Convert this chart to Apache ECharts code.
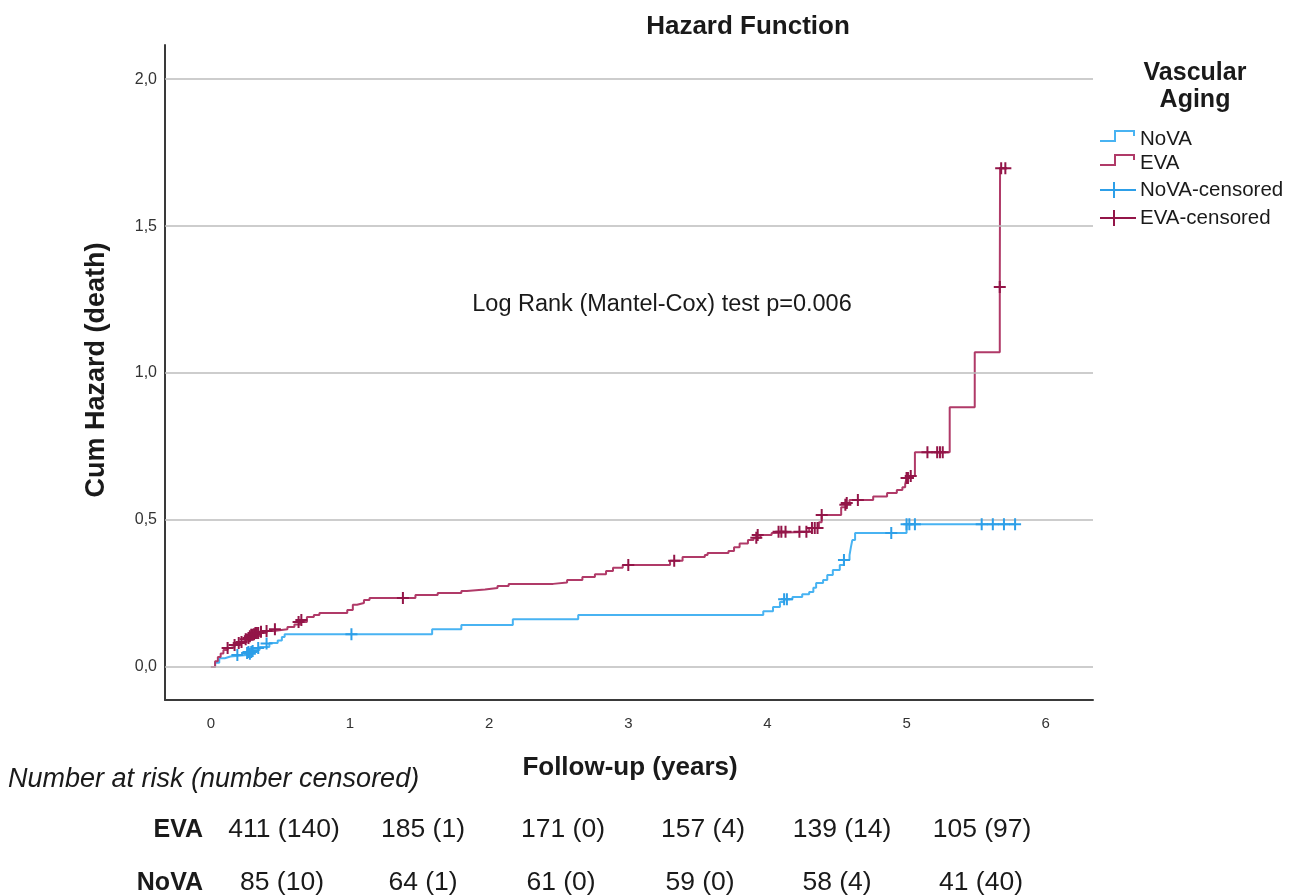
<!DOCTYPE html>
<html>
<head>
<meta charset="utf-8">
<script src="https://cdn.jsdelivr.net/npm/echarts@6/dist/echarts.min.js"></script>
<style>
html,body{margin:0;padding:0;background:#fff;}
#chart{width:1290px;height:896px;}
</style>
</head>
<body>
<div id="chart"></div>
<script>
// ---- Data ----
const xTicks = [0, 1, 2, 3, 4, 5, 6];
const yTicks = [0, 0.5, 1.0, 1.5, 2.0];

// Cumulative hazard step points [years, cum hazard] (value after each step)
const evaSteps = [
  [0,0],[0.03,0.02],[0.05,0.034],[0.07,0.046],[0.09,0.058],[0.12,0.065],[0.14,0.068],
  [0.17,0.075],[0.21,0.082],[0.24,0.09],[0.28,0.099],[0.31,0.106],[0.35,0.116],
  [0.40,0.123],[0.45,0.129],[0.55,0.136],[0.60,0.145],[0.64,0.153],[0.69,0.17],
  [0.74,0.177],[0.78,0.184],[0.98,0.194],[1.02,0.212],[1.05,0.218],[1.10,0.228],
  [1.14,0.235],[1.47,0.245],[1.63,0.252],[1.80,0.259],[1.84,0.264],[1.97,0.269],
  [2.06,0.276],[2.14,0.283],[2.46,0.288],[2.56,0.296],[2.67,0.306],[2.76,0.316],
  [2.84,0.327],[2.89,0.338],[2.96,0.347],[3.30,0.362],[3.39,0.374],[3.55,0.381],
  [3.57,0.388],[3.72,0.395],[3.76,0.408],[3.80,0.42],[3.86,0.432],[3.90,0.44],
  [3.95,0.449],[4.03,0.456],[4.05,0.46],[4.30,0.473],[4.37,0.493],[4.39,0.517],
  [4.53,0.544],[4.57,0.558],[4.59,0.568],[4.76,0.58],[4.86,0.592],[4.93,0.602],
  [4.97,0.612],[4.99,0.622],[5.00,0.643],[5.04,0.650],[5.06,0.731],[5.31,0.884],
  [5.49,1.071],[5.67,1.293],[5.672,1.697],[5.72,1.697]
];
const novaSteps = [
  [0,0],[0.03,0.015],[0.06,0.03],[0.10,0.036],[0.14,0.041],[0.26,0.051],[0.30,0.058],
  [0.35,0.068],[0.42,0.082],[0.48,0.09],[0.51,0.102],[0.53,0.112],[1.59,0.129],
  [1.80,0.143],[2.17,0.163],[2.64,0.177],[3.97,0.19],[4.04,0.204],[4.09,0.221],
  [4.12,0.231],[4.18,0.238],[4.25,0.248],[4.30,0.255],[4.33,0.27],[4.35,0.286],
  [4.40,0.296],[4.43,0.313],[4.47,0.33],[4.52,0.347],[4.55,0.364],[4.59,0.381],
  [4.60,0.408],[4.61,0.432],[4.63,0.456],[5.00,0.486],[5.78,0.486]
];
const evaCensored = [
  [0.12,0.065],[0.17,0.075],[0.20,0.082],[0.22,0.085],[0.25,0.095],[0.27,0.099],
  [0.28,0.105],[0.29,0.11],[0.30,0.11],[0.31,0.112],[0.32,0.116],[0.33,0.116],
  [0.34,0.116],[0.36,0.12],[0.40,0.123],[0.46,0.129],[0.63,0.153],[0.65,0.160],
  [1.38,0.235],[3.00,0.347],[3.33,0.362],[3.92,0.44],[3.93,0.449],[4.08,0.46],
  [4.10,0.46],[4.13,0.46],[4.23,0.46],[4.28,0.46],[4.32,0.473],[4.34,0.473],
  [4.36,0.473],[4.39,0.517],[4.56,0.552],[4.57,0.558],[4.65,0.568],[5.00,0.643],
  [5.01,0.643],[5.03,0.650],[5.15,0.731],[5.22,0.731],[5.24,0.731],[5.26,0.731],
  [5.67,1.293],[5.68,1.697],[5.71,1.697]
];
const novaCensored = [
  [0.19,0.041],[0.26,0.048],[0.27,0.051],[0.28,0.045],[0.29,0.051],[0.30,0.055],
  [0.34,0.065],[0.40,0.08],[1.01,0.112],[4.12,0.231],[4.14,0.231],[4.55,0.364],
  [4.89,0.456],[5.00,0.486],[5.02,0.486],[5.06,0.486],[5.54,0.486],[5.62,0.486],
  [5.70,0.486],[5.78,0.486]
];

// Risk table
const riskGroups = ['EVA', 'NoVA'];
const riskEVA = ['411 (140)', '185 (1)', '171 (0)', '157 (4)', '139 (14)', '105 (97)'];
const riskNoVA = ['85 (10)', '64 (1)', '61 (0)', '59 (0)', '58 (4)', '41 (40)'];

// ---- Styles ----
const FONT = '"Liberation Sans", Arial, sans-serif';
const NOVA_LINE = '#48b3f2';
const NOVA_MARK = '#2d9fe8';
const EVA_LINE = '#b03a68';
const EVA_MARK = '#931548';
const PLUS = 'path://M0,5 H12 V7 H0 Z M5,0 H7 V12 H5 Z';

const chart = echarts.init(document.getElementById('chart'), null, {renderer: 'canvas'});

function txt(text, x, y, font, align, extra) {
  return Object.assign({
    type: 'text', x: x, y: y, silent: true,
    style: {text: text, font: font, fill: '#1a1a1a', align: align || 'center', textAlign: align || 'center',
            verticalAlign: 'middle', textVerticalAlign: 'middle'}
  }, extra || {});
}

const riskCols = [284, 423, 563, 703, 842, 982];
const riskColsNova = [282, 423, 561, 700, 837, 981];
const graphics = [
  txt('Hazard Function', 748, 27, 'bold 26px ' + FONT),
  txt('Log Rank (Mantel-Cox) test p=0.006', 662, 305, '23.5px ' + FONT),
  txt('Cum Hazard (death)', 97, 370, 'bold 27px ' + FONT, 'center', {rotation: Math.PI / 2}),
  txt('Follow-up (years)', 630, 768, 'bold 26px ' + FONT),
  txt('Vascular', 1195, 73, 'bold 25px ' + FONT),
  txt('Aging', 1195, 100, 'bold 25px ' + FONT),
  txt('Number at risk (number censored)', 8, 779, 'italic 27px ' + FONT, 'left'),
  txt(riskGroups[0], 203, 830, 'bold 25px ' + FONT, 'right'),
  txt(riskGroups[1], 203, 883, 'bold 25px ' + FONT, 'right')
];
riskEVA.forEach((s, i) => graphics.push(txt(s, riskCols[i], 830, '26.5px ' + FONT)));
riskNoVA.forEach((s, i) => graphics.push(txt(s, riskColsNova[i], 883, '26.5px ' + FONT)));

// legend
const legItems = [
  {name: 'NoVA', y: 139, color: NOVA_LINE, kind: 'step'},
  {name: 'EVA', y: 163, color: EVA_LINE, kind: 'step'},
  {name: 'NoVA-censored', y: 190, color: NOVA_MARK, kind: 'plus'},
  {name: 'EVA-censored', y: 218, color: EVA_MARK, kind: 'plus'}
];
legItems.forEach(it => {
  if (it.kind === 'step') {
    graphics.push({type: 'polyline', silent: true,
      shape: {points: [[1100, it.y + 2], [1115, it.y + 2], [1115, it.y - 8], [1134, it.y - 8], [1134, it.y - 3]]},
      style: {stroke: it.color, lineWidth: 2, fill: null}});
  } else {
    graphics.push({type: 'line', silent: true, shape: {x1: 1100, y1: it.y, x2: 1136, y2: it.y},
      style: {stroke: it.color, lineWidth: 2}});
    graphics.push({type: 'line', silent: true, shape: {x1: 1114, y1: it.y - 8, x2: 1114, y2: it.y + 8},
      style: {stroke: it.color, lineWidth: 2}});
  }
  graphics.push(txt(it.name, 1140, it.y, '20.5px ' + FONT, 'left'));
});

const option = {
  backgroundColor: '#ffffff',
  animation: false,
  grid: {left: 165, right: 197, top: 45, bottom: 196, containLabel: false},
  xAxis: {
    type: 'value', min: -0.33, max: 6.34,
    axisLine: {show: true, onZero: false, lineStyle: {color: '#3a3a3a', width: 2}},
    axisTick: {show: false},
    splitLine: {show: false},
    axisLabel: {customValues: xTicks, margin: 16, color: '#333', fontSize: 15, fontFamily: FONT,
      formatter: v => String(v)}
  },
  yAxis: {
    type: 'value', min: -0.112, max: 2.116,
    axisLine: {show: true, onZero: false, lineStyle: {color: '#3a3a3a', width: 2}},
    axisTick: {show: false},
    splitLine: {show: false},
    axisLabel: {customValues: yTicks, margin: 8, color: '#333', fontSize: 16, fontFamily: FONT,
      formatter: v => v.toFixed(1).replace('.', ',')}
  },
  graphic: graphics,
  series: [
    {
      name: 'grid', type: 'line', data: [], silent: true, z: 1,
      markLine: {silent: true, symbol: ['none', 'none'], label: {show: false},
        lineStyle: {color: '#bdbdbd', width: 1.5, type: 'solid'},
        emphasis: {disabled: true},
        data: yTicks.map(v => ({yAxis: v}))}
    },
    {name: 'NoVA', type: 'line', step: 'end', data: novaSteps, showSymbol: false, symbol: 'none', z: 3,
      lineStyle: {color: NOVA_LINE, width: 2}, itemStyle: {color: NOVA_LINE}},
    {name: 'EVA', type: 'line', step: 'end', data: evaSteps, showSymbol: false, symbol: 'none', z: 4,
      lineStyle: {color: EVA_LINE, width: 2}, itemStyle: {color: EVA_LINE}},
    {name: 'NoVA-censored', type: 'scatter', data: novaCensored, symbol: PLUS, symbolSize: 12, z: 5,
      itemStyle: {color: NOVA_MARK, opacity: 1}},
    {name: 'EVA-censored', type: 'scatter', data: evaCensored, symbol: PLUS, symbolSize: 12, z: 6,
      itemStyle: {color: EVA_MARK, opacity: 1}}
  ]
};
chart.setOption(option);
</script>
</body>
</html>
